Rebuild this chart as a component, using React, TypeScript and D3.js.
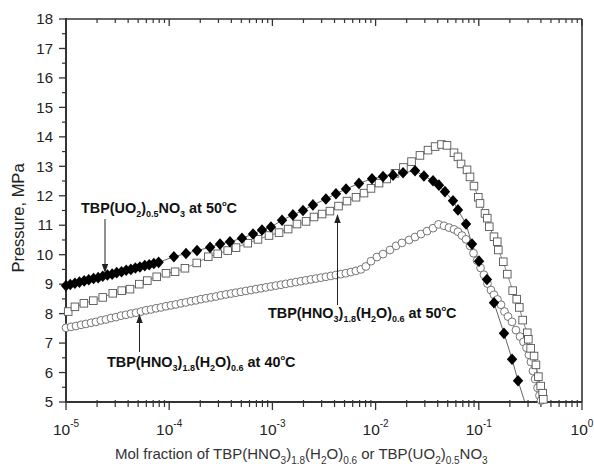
import React from 'react';
import * as d3 from 'd3';

const W = 594;
const H = 468;

// axis ticks
const xTicks = [1e-5, 1e-4, 1e-3, 1e-2, 1e-1, 1];
const xTickExp = ['-5', '-4', '-3', '-2', '-1', '0'];
const yTicks = [5, 6, 7, 8, 9, 10, 11, 12, 13, 14, 15, 16, 17, 18];

// TBP(UO2)0.5NO3 at 50°C (filled diamonds)
const uoX = [
  1.0e-5, 1.1e-5, 1.22e-5, 1.35e-5, 1.5e-5, 1.66e-5, 1.85e-5, 2.05e-5, 2.27e-5, 2.52e-5,
  2.8e-5, 3.1e-5, 3.45e-5, 3.83e-5, 4.25e-5, 4.7e-5, 5.2e-5, 5.8e-5, 6.4e-5, 7.1e-5, 7.9e-5,
  1.11e-4, 1.455e-4, 1.86e-4, 2.49e-4, 3.11e-4, 3.88e-4, 5.07e-4, 6.49e-4, 7.93e-4, 9.69e-4,
  1.24e-3, 1.58e-3, 1.98e-3, 2.47e-3, 3.3e-3, 4.13e-3, 5.17e-3, 6.9e-3, 9.23e-3,
  1.18e-2, 1.475e-2, 1.845e-2, 2.41e-2, 2.94e-2, 3.6e-2, 4.11e-2, 4.7e-2, 5.62e-2, 6.28e-2,
  7.52e-2, 8.59e-2, 1.005e-1, 1.2e-1, 1.403e-1, 1.754e-1, 2.1e-1, 2.4e-1,
];
const uoP = [
  8.95, 8.99, 9.03, 9.07, 9.11, 9.15, 9.19, 9.22, 9.27, 9.31,
  9.34, 9.39, 9.42, 9.47, 9.5, 9.55, 9.58, 9.63, 9.66, 9.7, 9.74,
  9.93, 10.04, 10.14, 10.25, 10.36, 10.44, 10.56, 10.7, 10.84, 10.94,
  11.17, 11.35, 11.5, 11.69, 11.89, 12.07, 12.23, 12.42, 12.58,
  12.65, 12.7, 12.78, 12.85, 12.67, 12.51, 12.36, 12.14, 11.83, 11.52,
  11.04, 10.36, 9.78, 9.16, 8.37, 7.33, 6.45, 5.72,
];
const uoTailX = [2.8e-1];
const uoTailP = [4.98];

// TBP(HNO3)1.8(H2O)0.6 at 50°C (open squares)
const hn50X = [
  1.05e-5, 1.22e-5, 1.49e-5, 1.84e-5, 2.27e-5, 2.84e-5, 3.47e-5, 4.17e-5, 5.13e-5, 6.14e-5,
  7.57e-5, 9.31e-5, 1.14e-4, 1.42e-4, 1.85e-4, 2.39e-4, 2.95e-4, 3.69e-4, 4.44e-4, 5.77e-4,
  7.25e-4, 9.27e-4, 1.16e-3, 1.42e-3, 1.73e-3, 2.12e-3, 2.53e-3, 3.03e-3, 3.61e-3, 4.37e-3,
  5.28e-3, 6.46e-3, 7.72e-3, 9.02e-3, 1.08e-2, 1.28e-2, 1.54e-2, 1.86e-2, 2.23e-2, 2.69e-2,
  3.22e-2, 3.77e-2, 4.35e-2, 4.92e-2, 5.75e-2, 6.28e-2, 6.73e-2, 7.69e-2, 8.22e-2, 8.98e-2,
  9.89e-2, 1.028e-1, 1.148e-1, 1.208e-1, 1.264e-1, 1.403e-1, 1.51e-1, 1.545e-1, 1.726e-1, 1.888e-1,
  2.13e-1, 2.33e-1, 2.47e-1, 2.66e-1, 2.95e-1, 3.02e-1, 3.18e-1, 3.43e-1, 3.58e-1, 3.78e-1,
  3.98e-1, 4.16e-1, 4.22e-1,
];
const hn50P = [
  8.07, 8.23, 8.35, 8.44, 8.55, 8.69, 8.78, 8.83, 9.0, 9.12,
  9.25, 9.37, 9.42, 9.54, 9.72, 9.93, 10.03, 10.14, 10.24, 10.39,
  10.52, 10.65, 10.75, 10.87, 11.04, 11.13, 11.28, 11.38, 11.48, 11.65,
  11.82, 11.95, 12.09, 12.25, 12.43, 12.57, 12.76, 12.96, 13.16, 13.37,
  13.55, 13.67, 13.74, 13.71, 13.46, 13.32, 13.08, 12.88, 12.64, 12.33,
  11.95, 11.74, 11.4, 11.24, 10.95, 10.61, 10.44, 10.16, 9.76, 9.34,
  8.78, 8.49, 8.21, 7.78, 7.35, 7.13, 6.82, 6.56, 6.26, 5.86,
  5.54, 5.3, 5.09,
];

// TBP(HNO3)1.8(H2O)0.6 at 40°C (open circles)
const hn40X = [
  1.0e-5, 1.12e-5, 1.25e-5, 1.4e-5, 1.56e-5, 1.75e-5, 1.95e-5, 2.18e-5, 2.44e-5, 2.73e-5,
  3.05e-5, 3.41e-5, 3.81e-5, 4.26e-5, 4.77e-5, 5.33e-5, 5.96e-5, 6.66e-5, 7.45e-5, 8.33e-5, 9.31e-5,
  1.04e-4, 1.16e-4, 1.3e-4, 1.45e-4, 1.63e-4, 1.82e-4, 2.03e-4, 2.27e-4, 2.54e-4, 2.84e-4,
  3.17e-4, 3.55e-4, 3.97e-4, 4.43e-4, 4.96e-4, 5.54e-4, 6.2e-4, 6.93e-4, 7.75e-4, 8.66e-4, 9.68e-4,
  1.08e-3, 1.21e-3, 1.35e-3, 1.51e-3, 1.69e-3, 1.89e-3, 2.11e-3, 2.36e-3, 2.64e-3, 2.95e-3,
  3.3e-3, 3.69e-3, 4.12e-3, 4.61e-3, 5.15e-3, 5.76e-3, 6.44e-3, 7.2e-3, 8.05e-3,
  9.02e-3, 1.03e-2, 1.18e-2, 1.38e-2, 1.58e-2, 1.8e-2, 2.11e-2, 2.41e-2, 2.75e-2, 3.15e-2,
  3.6e-2, 4.07e-2, 4.6e-2, 5.14e-2, 5.75e-2, 6.28e-2, 6.87e-2, 7.52e-2, 8.22e-2, 8.89e-2,
  9.62e-2, 1.04e-1, 1.122e-1, 1.213e-1, 1.312e-1, 1.403e-1, 1.517e-1, 1.64e-1, 1.775e-1, 1.92e-1,
  2.1e-1, 2.29e-1, 2.51e-1, 2.71e-1, 2.9e-1, 3.06e-1, 3.2e-1, 3.35e-1, 3.51e-1, 3.71e-1,
  3.87e-1, 4.01e-1,
];
const hn40P = [
  7.52, 7.55, 7.58, 7.62, 7.65, 7.69, 7.72, 7.77, 7.8, 7.85,
  7.88, 7.93, 7.96, 8.0, 8.03, 8.07, 8.11, 8.14, 8.18, 8.21, 8.25,
  8.28, 8.31, 8.35, 8.38, 8.42, 8.45, 8.49, 8.52, 8.55, 8.58,
  8.62, 8.65, 8.68, 8.71, 8.74, 8.77, 8.8, 8.83, 8.86, 8.89, 8.92,
  8.95, 8.98, 9.01, 9.04, 9.07, 9.1, 9.13, 9.16, 9.19, 9.22,
  9.25, 9.28, 9.31, 9.34, 9.37, 9.41, 9.45, 9.5, 9.6,
  9.78, 9.92, 10.02, 10.16, 10.3, 10.4, 10.5, 10.6, 10.7, 10.8,
  10.9, 11.03, 10.98, 10.92, 10.86, 10.78, 10.65, 10.52, 10.3, 10.05,
  9.8, 9.55, 9.32, 9.02, 8.8, 8.64, 8.48, 8.3, 8.07, 7.9,
  7.72, 7.44, 7.22, 7.04, 6.84, 6.6, 6.36, 6.05, 5.78, 5.48,
  5.22, 5.05,
];

const FONT = 'Arial, "Liberation Sans", sans-serif';

type Part = [string, 'n' | 'sub' | 'sup'];

const uoLabel: Part[] = [['TBP(UO', 'n'], ['2', 'sub'], [')', 'n'], ['0.5', 'sub'], ['NO', 'n'], ['3', 'sub'], [' at 50', 'n'], ['o', 'sup'], ['C', 'n']];
const hn50Label: Part[] = [['TBP(HNO', 'n'], ['3', 'sub'], [')', 'n'], ['1.8', 'sub'], ['(H', 'n'], ['2', 'sub'], ['O)', 'n'], ['0.6', 'sub'], [' at 50', 'n'], ['o', 'sup'], ['C', 'n']];
const hn40Label: Part[] = [['TBP(HNO', 'n'], ['3', 'sub'], [')', 'n'], ['1.8', 'sub'], ['(H', 'n'], ['2', 'sub'], ['O)', 'n'], ['0.6', 'sub'], [' at 40', 'n'], ['o', 'sup'], ['C', 'n']];
const xTitle: Part[] = [['Mol fraction of TBP(HNO', 'n'], ['3', 'sub'], [')', 'n'], ['1.8', 'sub'], ['(H', 'n'], ['2', 'sub'], ['O)', 'n'], ['0.6', 'sub'], [' or TBP(UO', 'n'], ['2', 'sub'], [')', 'n'], ['0.5', 'sub'], ['NO', 'n'], ['3', 'sub']];

function RichText({ parts, x, y, size, small, weight, fill, anchor }: any) {
  let off = 0;
  return (
    <text x={x} y={y} fontFamily={FONT} fontSize={size} fontWeight={weight} fill={fill} textAnchor={anchor}>
      {parts.map(([t, k]: Part, i: number) => {
        const target = k === 'sub' ? size * 0.3 : k === 'sup' ? -size * 0.5 : 0;
        const dy = target - off;
        off = target;
        return (
          <tspan key={i} dy={dy} fontSize={k === 'n' ? size : k === 'sup' ? small * 0.85 : small}>
            {t}
          </tspan>
        );
      })}
    </text>
  );
}

export default function App() {
  const x = d3.scaleLog().domain([1e-5, 1]).range([66, 582]);
  const y = d3.scaleLinear().domain([5, 18]).range([402, 19]);
  const [x0, x1] = x.range();
  const [yb, yt] = y.range();

  const minorX: number[] = [];
  for (let e = -5; e < 0; e++) for (let m = 2; m <= 9; m++) minorX.push(m * Math.pow(10, e));
  const minorY = d3.range(5.5, 18, 1);

  const uo = uoX.map((v, i) => ({ x: v, p: uoP[i] }));
  const uoLine = uo.concat(uoTailX.map((v, i) => ({ x: v, p: uoTailP[i] })));
  const hn50 = hn50X.map((v, i) => ({ x: v, p: hn50P[i] }));
  const hn40 = hn40X.map((v, i) => ({ x: v, p: hn40P[i] }));

  const line = d3
    .line<{ x: number; p: number }>()
    .x((d) => x(d.x))
    .y((d) => y(d.p));

  const axisColor = '#333';

  return (
    <svg width={W} height={H} style={{ position: 'absolute', left: 0, top: 0, background: '#fff' }}>
      {/* frame */}
      <line x1={x0} x2={x1} y1={yt} y2={yt} stroke={axisColor} strokeWidth={1.6} />
      <line x1={x1} x2={x1} y1={yt} y2={yb} stroke={axisColor} strokeWidth={1.6} />
      <line x1={x0} x2={x1} y1={yb} y2={yb} stroke={axisColor} strokeWidth={1.8} />
      <line x1={x0} x2={x0} y1={yt - 1} y2={yb + 1} stroke={axisColor} strokeWidth={2} />

      {/* y ticks */}
      {yTicks.map((t) => (
        <g key={'y' + t}>
          <line x1={x0 - 7} x2={x0} y1={y(t)} y2={y(t)} stroke={axisColor} strokeWidth={1.3} />
          <text x={x0 - 13} y={y(t)} dy="0.35em" textAnchor="end" fontFamily={FONT} fontSize={15} fill="#222">
            {t}
          </text>
        </g>
      ))}
      {minorY.map((t) => (
        <line key={'ym' + t} x1={x0 - 4} x2={x0} y1={y(t)} y2={y(t)} stroke={axisColor} strokeWidth={1.2} />
      ))}

      {/* x ticks */}
      {xTicks.map((t, i) => (
        <g key={'x' + t}>
          <line x1={x(t)} x2={x(t)} y1={yb} y2={yb + 8} stroke={axisColor} strokeWidth={1.3} />
          <line x1={x(t)} x2={x(t)} y1={yt} y2={yt + 7} stroke={axisColor} strokeWidth={1.3} />
          <text x={x(t)} y={435} textAnchor="middle" fontFamily={FONT} fontSize={15.5} fill="#222">
            <tspan>10</tspan>
            <tspan fontSize={10} dy={-8}>
              {xTickExp[i]}
            </tspan>
          </text>
        </g>
      ))}
      {minorX.map((t) => (
        <g key={'xm' + t}>
          <line x1={x(t)} x2={x(t)} y1={yb - 2} y2={yb + 5} stroke={axisColor} strokeWidth={1.2} />
          <line x1={x(t)} x2={x(t)} y1={yt} y2={yt + 4} stroke={axisColor} strokeWidth={1.2} />
        </g>
      ))}

      {/* axis titles */}
      <text
        transform={`translate(24, 218) rotate(-90)`}
        textAnchor="middle"
        fontFamily={FONT}
        fontSize={16.5}
        fill="#222"
      >
        Pressure, MPa
      </text>
      <RichText parts={xTitle} x={115} y={459} size={15} small={10} fill="#333" />

      {/* connecting lines */}
      <path d={line(hn40) || ''} fill="none" stroke="#333" strokeWidth={0.6} />
      <path d={line(hn50) || ''} fill="none" stroke="#333" strokeWidth={0.6} />
      <path d={line(uoLine) || ''} fill="none" stroke="#222" strokeWidth={0.7} />

      {/* markers */}
      {hn40.map((d, i) => (
        <circle key={'c' + i} cx={x(d.x)} cy={y(d.p)} r={3.9} fill="#fff" stroke="#666" strokeWidth={0.9} />
      ))}
      {hn50.map((d, i) => (
        <rect
          key={'s' + i}
          x={x(d.x) - 3.8}
          y={y(d.p) - 3.8}
          width={7.6}
          height={7.6}
          fill="#fff"
          stroke="#555"
          strokeWidth={0.9}
        />
      ))}
      {uo.map((d, i) => (
        <path
          key={'d' + i}
          transform={`translate(${x(d.x)},${y(d.p)})`}
          d="M0,-5.8L5.2,0L0,5.8L-5.2,0Z"
          fill="#000"
        />
      ))}

      {/* annotations */}
      <RichText parts={uoLabel} x={81} y={213} size={14.4} small={9} weight="bold" fill="#111" />
      <line x1={105} x2={105} y1={219} y2={266} stroke="#222" strokeWidth={1} />
      <path d="M101.8,264L108.2,264L105,273Z" fill="#222" />

      <RichText parts={hn50Label} x={268} y={318} size={14.4} small={9} weight="bold" fill="#111" />
      <line x1={337.5} x2={337.5} y1={305} y2={221} stroke="#222" strokeWidth={1} />
      <path d="M334.3,223L340.7,223L337.5,214Z" fill="#222" />

      <RichText parts={hn40Label} x={107} y={367} size={14.4} small={9} weight="bold" fill="#111" />
      <line x1={139.5} x2={139.5} y1={352} y2={321} stroke="#222" strokeWidth={1} />
      <path d="M136.3,323L142.7,323L139.5,314Z" fill="#222" />
    </svg>
  );
}
